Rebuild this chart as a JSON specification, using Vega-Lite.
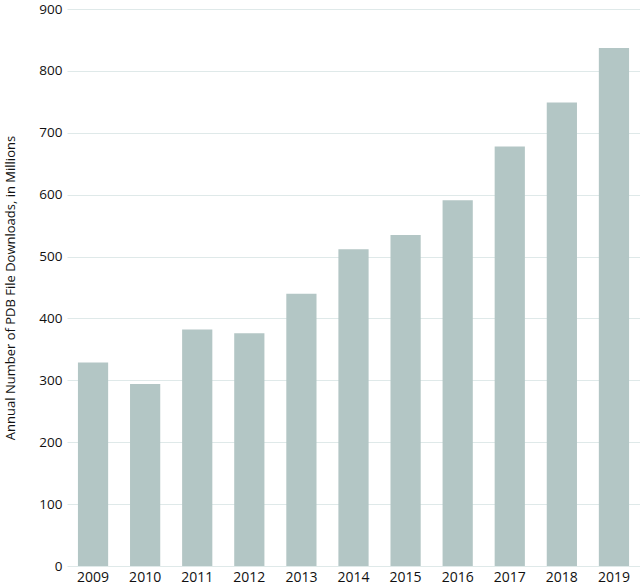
{
  "$schema": "https://vega.github.io/schema/vega-lite/v6.json",
  "width": 573,
  "height": 557,
  "autosize": {"type": "none"},
  "padding": {"left": 67, "top": 9, "right": 0, "bottom": 20},
  "background": "white",
  "data": {"values": [
    {"year": "2009", "downloads": 329},
    {"year": "2010", "downloads": 294},
    {"year": "2011", "downloads": 382},
    {"year": "2012", "downloads": 376},
    {"year": "2013", "downloads": 440},
    {"year": "2014", "downloads": 512},
    {"year": "2015", "downloads": 535},
    {"year": "2016", "downloads": 591},
    {"year": "2017", "downloads": 678},
    {"year": "2018", "downloads": 749},
    {"year": "2019", "downloads": 837}
  ]},
  "mark": {"type": "bar", "color": "#b3c6c5"},
  "encoding": {
    "x": {
      "field": "year", "type": "ordinal",
      "scale": {"paddingInner": 0.42, "paddingOuter": 0.21},
      "axis": {"title": null, "labelAngle": 0, "domain": false, "ticks": false, "labelPadding": 4, "labelFontSize": 14, "labelFont": "Open Sans", "labelColor": "#111"}
    },
    "y": {
      "field": "downloads", "type": "quantitative",
      "scale": {"domain": [0, 900]},
      "axis": {"title": "Annual Number of PDB File Downloads, in Millions", "values": [0,100,200,300,400,500,600,700,800,900], "domain": false, "ticks": false, "labelPadding": 5, "labelFontSize": 13.5, "labelFont": "Open Sans", "labelColor": "#111", "titleFont": "Open Sans", "titleFontSize": 13, "titleFontWeight": "normal", "titleColor": "#111", "titlePadding": 21, "gridColor": "#dfe9e9", "gridWidth": 1}
    }
  },
  "config": {"view": {"stroke": null}}
}
